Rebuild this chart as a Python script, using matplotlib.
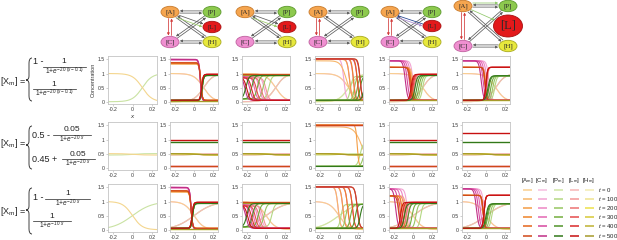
import numpy as np
import matplotlib
matplotlib.use("Agg")
import matplotlib.pyplot as plt
from matplotlib.patches import Ellipse, PathPatch
from matplotlib.path import Path

plt.rcParams['font.family'] = ['Liberation Sans', 'DejaVu Sans']
plt.rcParams['mathtext.fontset'] = 'custom'
plt.rcParams['mathtext.rm'] = 'Liberation Sans'
plt.rcParams['mathtext.it'] = 'Liberation Sans:italic'
plt.rcParams['axes.unicode_minus'] = False

# ---- data ----
times = [0, 100, 200, 300, 400, 500]
species = ['A', 'C', 'P', 'L', 'H']
xticks = [-0.2, 0, 0.2]
yticks = [0, 0.5, 1, 1.5]

col_A = ['#f9cf8f', '#f7b66a', '#f49d45', '#ef8428', '#e4651b', '#cf4818']
col_C = ['#f7bfe0', '#f2a4d3', '#ec86c4', '#e367b3', '#d6489f', '#c02f86']
col_P = ['#cfe5a6', '#b4d783', '#96c660', '#74ae3d', '#519329', '#31781a']
col_L = ['#f6b7b7', '#f29797', '#ec7373', '#e54b4b', '#da2a2a', '#c61010']
col_H = ['#f3ecb4', '#efe38f', '#ece04a', '#d7c937', '#bfb132', '#a69a2b']
colors = {'A': col_A, 'C': col_C, 'P': col_P, 'L': col_L, 'H': col_H}

# initial profiles per row: (left level, right level, midpoint, width) -- from the equations
init_dec = [(1.0, 0.0, 0.1, 0.05), (0.5, 0.45, 0.0, 0.05), (1.0, 0.0, 0.0, 0.05)]
init_inc = [(0.0, 1.0, 0.1, 0.05), (0.45, 0.5, 0.0, 0.05), (0.0, 1.0, 0.0, 0.1)]

# per panel, species -> (left level, right level, width, front positions at t=100..500)
r1c2 = {'C': ([1.46, 1.48, 1.5, 1.5, 1.5], 0.03, 0.008, [0.07, 0.068, 0.066, 0.065, 0.065]),
        'A': ([1.33, 1.35, 1.37, 1.38, 1.38], 0.05, 0.008, [0.07, 0.07, 0.07, 0.07, 0.07]),
        'H': (0.03, 0.03, 0.01, [0, 0, 0, 0, 0]),
        'P': (0.05, 0.93, 0.008, [0.085, 0.085, 0.085, 0.085, 0.085]),
        'L': (0.05, 0.97, 0.008, [0.08, 0.08, 0.08, 0.08, 0.08])}
r1c3 = {'C': (0.9, 0.05, 0.015, [-0.02, -0.07, -0.12, -0.17, -0.22]),
        'A': (0.97, 0.97, 0.01, [0, 0, 0, 0, 0]),
        'H': (0.93, 0.93, 0.01, [0, 0, 0, 0, 0]),
        'P': (0.1, 0.93, 0.015, [0.03, -0.03, -0.09, -0.15, -0.21]),
        'L': (0.85, 0.05, 0.015, [0.0, -0.05, -0.1, -0.15, -0.2])}
r1c4 = {'C': (1.52, 0.05, 0.012, [0.05, 0.11, 0.15, 0.19, 0.22]),
        'A': ([1.45, 1.5, 1.52, 1.52, 1.52], 0.05, [0.03, 0.012, 0.01, 0.01, 0.01], [0.08, 0.11, 0.15, 0.19, 0.22]),
        'H': (0.05, 0.05, 0.01, [0, 0, 0, 0, 0]),
        'P': (0.05, 0.9, 0.012, [0.12, 0.16, 0.19, 0.22, 0.26])}
r1c5 = {'C': (1.45, 0.05, 0.012, [0.0, -0.02, -0.04, -0.06, -0.08]),
        'A': (1.22, 0.05, 0.01, [0.0, -0.01, -0.02, -0.02, -0.03]),
        'H': (0.05, 0.05, 0.01, [0, 0, 0, 0, 0]),
        'P': (0.05, 0.93, 0.012, [0.1, 0.08, 0.06, 0.04, 0.02]),
        'L': (0.05, 0.97, 0.01, [0.02, 0.01, 0.0, -0.01, -0.02])}
r1c6 = {'C': (1.45, 0.05, 0.012, [0.03, 0.01, -0.01, -0.03, -0.05]),
        'A': (1.22, 0.05, 0.008, [0.0, -0.005, -0.01, -0.01, -0.01]),
        'H': (0.05, 0.05, 0.01, [0, 0, 0, 0, 0]),
        'P': (0.05, 0.92, 0.012, [0.09, 0.07, 0.05, 0.03, 0.02]),
        'L': (0.05, 1.22, 0.008, [0.01, 0.005, 0.0, 0.0, 0.0])}

r2c2 = {'C': (0.05, 0.05, 0.01, [0, 0, 0, 0, 0]),
        'A': (0.05, 0.05, 0.01, [0, 0, 0, 0, 0]),
        'H': (0.5, 0.46, 0.05, [0, 0, 0, 0, 0]),
        'P': (0.92, 0.92, 0.01, [0, 0, 0, 0, 0]),
        'L': (0.97, 0.97, 0.01, [0, 0, 0, 0, 0])}
r2c3 = dict(r2c2)
r2c4 = {'C': (1.52, 1.52, 0.01, [0, 0, 0, 0, 0]),
        'A': ([1.45, 1.52, 1.52, 1.52, 1.52], 0.05, [0.04, 0.008, 0.01, 0.01, 0.01], [0.24, 0.19, 0.35, 0.4, 0.45]),
        'H': (0.5, 0.46, 0.05, [0, 0, 0, 0, 0]),
        'P': (0.05, 0.9, 0.015, [0.22, 0.26, 0.3, 0.35, 0.4])}
r2c5 = dict(r2c2)
r2c6 = {'C': (0.05, 0.05, 0.01, [0, 0, 0, 0, 0]),
        'A': (0.05, 0.05, 0.01, [0, 0, 0, 0, 0]),
        'H': (0.5, 0.46, 0.05, [0, 0, 0, 0, 0]),
        'P': (0.92, 0.92, 0.01, [0, 0, 0, 0, 0]),
        'L': (1.22, 1.22, 0.01, [0, 0, 0, 0, 0])}

r3c2 = {'C': ([1.46, 1.48, 1.5, 1.5, 1.5], 0.03, 0.008, [-0.03, -0.03, -0.03, -0.03, -0.03]),
        'A': ([1.33, 1.35, 1.37, 1.38, 1.38], 0.05, 0.008, [-0.03, -0.03, -0.03, -0.03, -0.03]),
        'H': (0.03, 0.03, 0.01, [0, 0, 0, 0, 0]),
        'P': (0.05, 0.93, 0.008, [-0.015, -0.015, -0.015, -0.015, -0.015]),
        'L': (0.05, 0.97, 0.008, [-0.02, -0.02, -0.02, -0.02, -0.02])}
r3c3 = {'C': (0.9, 0.05, 0.015, [-0.05, -0.09, -0.13, -0.17, -0.21]),
        'A': (0.97, 0.97, 0.01, [0, 0, 0, 0, 0]),
        'H': (0.93, 0.93, 0.01, [0, 0, 0, 0, 0]),
        'P': (0.1, 0.93, 0.015, [0.06, -0.02, -0.08, -0.14, -0.2]),
        'L': (0.85, 0.05, 0.015, [-0.03, -0.07, -0.11, -0.15, -0.19])}
r3c4 = {'C': (1.52, 0.05, 0.012, [-0.01, 0.04, 0.09, 0.14, 0.19]),
        'A': (1.52, 0.05, 0.012, [-0.01, 0.04, 0.09, 0.14, 0.19]),
        'H': (0.05, 0.05, 0.01, [0, 0, 0, 0, 0]),
        'P': (0.05, 0.9, 0.012, [0.02, 0.07, 0.12, 0.17, 0.22])}
r3c5 = {'C': (1.45, 0.05, 0.012, [-0.06, -0.09, -0.12, -0.15, -0.18]),
        'A': (1.2, 0.05, 0.01, [-0.07, -0.09, -0.11, -0.13, -0.15]),
        'H': (0.05, 0.05, 0.01, [0, 0, 0, 0, 0]),
        'P': (0.05, 0.93, 0.012, [0.08, 0.03, -0.01, -0.05, -0.09]),
        'L': (0.05, 0.97, 0.01, [-0.05, -0.07, -0.09, -0.11, -0.13])}
r3c6 = {'C': (1.45, 0.05, 0.012, [-0.02, -0.04, -0.06, -0.08, -0.1]),
        'A': (1.22, 0.05, 0.008, [-0.03, -0.03, -0.03, -0.03, -0.03]),
        'H': (0.05, 0.05, 0.01, [0, 0, 0, 0, 0]),
        'P': (0.05, 0.92, 0.012, [0.06, 0.04, 0.02, 0.01, 0.0]),
        'L': (0.05, 1.22, 0.008, [-0.02, -0.02, -0.02, -0.02, -0.02])}

panels = [[None, r1c2, r1c3, r1c4, r1c5, r1c6],
          [None, r2c2, r2c3, r2c4, r2c5, r2c6],
          [None, r3c2, r3c3, r3c4, r3c5, r3c6]]

# ---- layout (pixels) ----
W, H = 617, 240
col_x = [(108, 157), (170, 218), (242, 290), (315, 363), (389, 437), (462, 510)]
row_y = [(56, 104), (122, 170), (184, 232)]


def sig(x, yl, yr, x0, w):
    return yl + (yr - yl) / (1 + np.exp(-(x - x0) / w))


xs = np.linspace(-0.25, 0.25, 400)
fig = plt.figure(figsize=(W / 100, H / 100), dpi=100)

for r in range(3):
    for c in range(6):
        (x0, x1), (y0, y1) = col_x[c], row_y[r]
        ax = fig.add_axes([x0 / W, 1 - y1 / H, (x1 - x0) / W, (y1 - y0) / H])
        pdata = panels[r][c]
        present = species if pdata is None else [s for s in ['C', 'A', 'H', 'P', 'L'] if s in pdata]
        # t = 0 initial profiles
        if pdata is None:
            ax.plot(xs, sig(xs, *init_inc[r]), color='#c9e2a2', lw=0.8)
            ax.plot(xs, sig(xs, *init_dec[r]), color='#f4d68e', lw=0.8)
        else:
            for s in present:
                prof = init_dec[r] if s in ('A', 'C') else init_inc[r]
                ax.plot(xs, sig(xs, *prof), color=colors[s][0], lw=0.8)
            for k in range(5):
                for s in present:
                    left, right, w, mids = pdata[s]
                    yl = np.broadcast_to(left, (5,))[k]
                    yr = np.broadcast_to(right, (5,))[k]
                    ww = np.broadcast_to(w, (5,))[k]
                    ax.plot(xs, sig(xs, yl, yr, mids[k], ww), color=colors[s][k + 1], lw=0.8)
        ax.set_xlim(-0.25, 0.25)
        ax.set_ylim(-0.08, 1.62)
        ax.set_xticks(xticks)
        ax.set_xticklabels(['-0.2', '0', '0.2'])
        ax.set_yticks(yticks)
        ax.set_yticklabels(['0', '0.5', '1', '1.5'])
        ax.tick_params(labelsize=3.7, length=1.2, width=0.4, pad=1.2, colors='#aaaaaa', labelcolor='#333333')
        for sp in ax.spines.values():
            sp.set_color('#c4c4c4')
            sp.set_linewidth(0.6)
        if r == 0 and c == 0:
            ax.set_ylabel('Concentration', fontsize=4, labelpad=1.5, color='#333333')
            ax.set_xlabel('$x$', fontsize=4.5, labelpad=0.5, color='#333333')

# ---- overlay: equations, network diagrams, legend ----
ov = fig.add_axes([0, 0, 1, 1])
ov.set_xlim(0, W)
ov.set_ylim(H, 0)
ov.axis('off')
tc = '#222222'


def brace(xt, xb, xe, ya, ym, yb):
    verts = [(xe, ya), (xb, ya), (xb, ya + 5), (xb, ym - 4), (xb, ym), (xt, ym),
             (xb, ym), (xb, ym + 4), (xb, yb - 5), (xb, yb), (xe, yb)]
    codes = [Path.MOVETO, Path.CURVE3, Path.CURVE3, Path.LINETO, Path.CURVE3, Path.CURVE3,
             Path.CURVE3, Path.CURVE3, Path.LINETO, Path.CURVE3, Path.CURVE3]
    ov.add_patch(PathPatch(Path(verts, codes), fill=False, lw=0.6, edgecolor=tc))


def frac(xc, xa, xb, ybar, num, den):
    ov.text(xc, ybar - 4.9, num, fontsize=6.0, ha='center', va='center', color=tc)
    ov.plot([xa, xb], [ybar, ybar], color=tc, lw=0.5)
    ov.text(xc, ybar + 4.7, den, fontsize=4.8, ha='center', va='center', color=tc)


xm = r'[X$_{\mathrm{m}}$] ='
# row 1
ov.text(0, 81, xm, fontsize=6.5, va='center', color=tc)
brace(26, 29, 32, 58, 80, 101)
ov.text(33, 62, '1 -', fontsize=6.5, va='center', color=tc)
frac(64, 43, 86, 66.5, '1', r'$1\!+\!e^{-20\ (x-0.1)}$')
frac(54, 33, 76, 89, '1', r'$1\!+\!e^{-20\ (x-0.1)}$')
# row 2
ov.text(0, 143, xm, fontsize=6.5, va='center', color=tc)
brace(26, 29, 32, 126, 145, 169)
ov.text(32, 135, '0.5 -', fontsize=6.5, va='center', color=tc)
frac(72, 53, 91, 134.5, '0.05', r'$1\!+\!e^{-20\ x}$')
ov.text(32, 159, '0.45 +', fontsize=6.5, va='center', color=tc)
frac(78, 62, 95, 159, '0.05', r'$1\!+\!e^{-20\ x}$')
# row 3
ov.text(0, 211, xm, fontsize=6.5, va='center', color=tc)
brace(26, 29, 32, 188, 210, 234)
ov.text(33, 198, '1 -', fontsize=6.5, va='center', color=tc)
frac(68, 45, 90, 198.5, '1', r'$1\!+\!e^{-20\ x}$')
frac(52, 33, 71, 221, '1', r'$1\!+\!e^{-10\ x}$')

# network diagrams
node_face = {'A': '#f5a54f', 'P': '#8dc94e', 'L': '#e3191b', 'C': '#ef8fd0', 'H': '#e7e83c'}
node_edge = {'A': '#c97a2a', 'P': '#5c9a2c', 'L': '#a81010', 'C': '#c0609f', 'H': '#a9aa1e'}
diagrams = [
    {'A': (170, 12), 'P': (212, 12), 'L': (212, 27), 'C': (170, 42), 'H': (212, 42)},
    {'A': (245, 12), 'P': (287, 12), 'L': (287, 27), 'C': (245, 42), 'H': (287, 42)},
    {'A': (318, 12), 'P': (360, 12), 'C': (318, 42), 'H': (360, 42)},
    {'A': (390, 12), 'P': (432, 12), 'L': (432, 26), 'C': (390, 42), 'H': (432, 42)},
    {'A': (463, 6), 'P': (508, 6), 'L': (508, 26), 'C': (463, 46), 'H': (508, 46)},
]
gray = '#5e5e5e'
base_edges = [('A', 'P'), ('C', 'H'), ('A', 'H'), ('C', 'P')]
extra = [
    [('A', 'L', gray, 0), ('A', 'L', '#9ccc6a', 3)],
    [('A', 'L', gray, 0), ('A', 'L', '#9ccc6a', 3)],
    [],
    [('A', 'L', '#a98ad0', 3), ('L', 'A', '#1f3f8f', -1)],
    [('A', 'L', '#8fc86a', 0), ('A', 'P', '#8fc86a', -3)],
]
red_pair = [True, False, True, True, True]


def radius(u, a, b):
    return 1.0 / np.sqrt((u[0] / a) ** 2 + (u[1] / b) ** 2)


def edge(nodes, sizes, s, t, color, off, style='-|>'):
    p, q = np.array(nodes[s], float), np.array(nodes[t], float)
    u = (q - p) / np.linalg.norm(q - p)
    n = np.array([-u[1], u[0]])
    a = p + u * (radius(u, *sizes[s]) + 0.8) + n * off
    b = q - u * (radius(u, *sizes[t]) + 0.8) + n * off
    ov.annotate('', xy=b, xytext=a,
                arrowprops=dict(arrowstyle=style, color=color, lw=0.55, shrinkA=0, shrinkB=0,
                                mutation_scale=3.5))


for d, nodes in enumerate(diagrams):
    sizes = {k: (9, 5.7) for k in nodes}
    if d == 4:
        sizes['L'] = (14.5, 11)
    for s, t in base_edges:
        edge(nodes, sizes, s, t, gray, 1.1)
        edge(nodes, sizes, t, s, gray, 1.1)
    if red_pair[d]:
        edge(nodes, sizes, 'A', 'C', '#d23a3a', 1.6)
        edge(nodes, sizes, 'C', 'A', '#d23a3a', 1.6)
    for s, t, col, off in extra[d]:
        style = '|-|, widthA=0, widthB=0.6' if col == '#1f3f8f' else '-|>'
        edge(nodes, sizes, s, t, col, off, style)
    for k, (x, y) in nodes.items():
        a, b = sizes[k]
        ov.add_patch(Ellipse((x, y), 2 * a, 2 * b, facecolor=node_face[k], edgecolor=node_edge[k],
                             lw=0.6, zorder=5))
        fs = 9 if (d == 4 and k == 'L') else 5
        ov.text(x, y, f'[{k}]', fontsize=fs, family='Liberation Serif', ha='center', va='center',
                color='#2a2a2a', zorder=6)

# legend
leg_x = [527, 542, 558, 574, 589]
leg_y = [190, 199, 208, 217, 226, 236]
for j, s in enumerate(species):
    ov.text(leg_x[j], 180.5, f'[{s}$_{{\\mathrm{{m}}}}$]', fontsize=4.3, ha='center', va='center', color=tc)
    for k, t in enumerate(times):
        ov.plot([leg_x[j] - 4.5, leg_x[j] + 4.5], [leg_y[k], leg_y[k]], color=colors[s][k], lw=1.1,
                solid_capstyle='butt')
for k, t in enumerate(times):
    ov.text(598, leg_y[k], f'$t$ = {t}', fontsize=4.3, ha='left', va='center', color=tc)

fig.savefig('out.png', dpi=100)
